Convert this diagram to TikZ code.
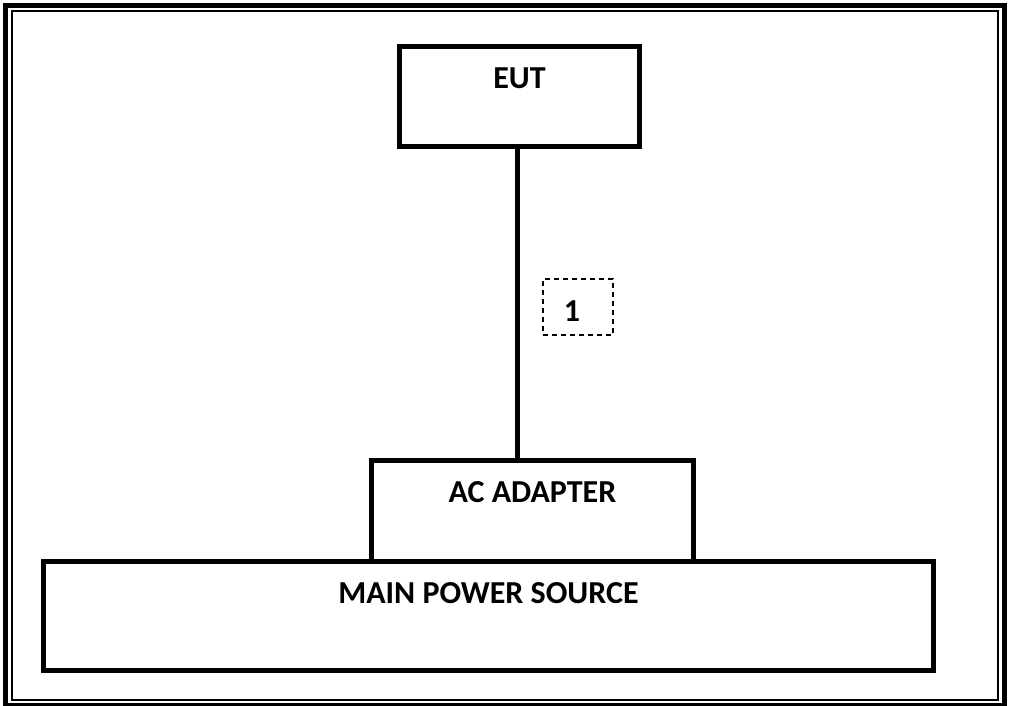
\documentclass[tikz,border=0pt]{standalone}
\usepackage{fontspec}
\setmainfont{Carlito}
\usetikzlibrary{positioning}

\begin{document}
\begin{tikzpicture}[x=1pt,y=-1pt,
    unitbox/.style={draw,line width=5pt,inner sep=0pt,font=\bfseries\fontsize{32}{38}\selectfont,text height=42pt},
    cablebox/.style={draw,dashed,dash pattern=on 5pt off 4pt,line width=1.5pt,minimum width=70pt,minimum height=56pt}]
    \useasboundingbox (0,0) rectangle (1010,706);
    % Double frame
    \draw[line width=5pt] (5.5,5.5) rectangle (1004.5,705.5);
    \draw[line width=2pt] (12,11.5) rectangle (998,700);
    % Boxes
    \node[unitbox,minimum width=240pt,minimum height=100pt,text depth=58pt] (eut) at (519.5,96.5) {EUT};
    \node[unitbox,minimum width=322pt,minimum height=100.5pt,text depth=58.5pt] (adapter) at (532.5,511) {AC ADAPTER};
    \node[unitbox,minimum width=890pt,minimum height=109pt,text depth=67pt] (mains) at (488.5,616) {MAIN POWER SOURCE};
    % Cable
    \draw[line width=5pt] ([xshift=-2pt]eut.south) -- ([xshift=-2pt]eut.south |- adapter.north);
    \node[cablebox] (cable) at (578,307) {};
    \node[font=\bfseries\fontsize{32}{38}\selectfont] (cablenum) at ([xshift=-6pt,yshift=-4pt]cable.center) {1};
\end{tikzpicture}
\end{document}
